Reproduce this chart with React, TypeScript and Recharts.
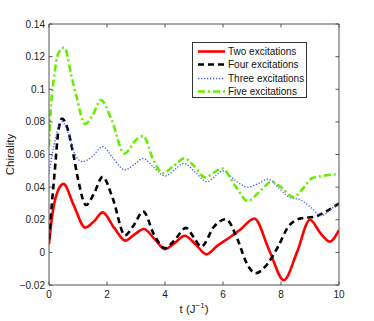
import React from 'react';
import { LineChart, Line, XAxis, YAxis } from 'recharts';

document.body.style.margin = '0';

const FONT = '"Liberation Sans", Arial, Helvetica, sans-serif';
const AXIS = '#555';

// time axis ticks (J^-1) and chirality ticks
const tTicks = [0, 2, 4, 6, 8, 10];
const yTicks = [-0.02, 0, 0.02, 0.04, 0.06, 0.08, 0.1, 0.12, 0.14];
const yTickLabels = ['\u22120.02', '0', '0.02', '0.04', '0.06', '0.08', '0.1', '0.12', '0.14'];

// Two excitations (red, solid)
const twoT = [0, 0.1, 0.25, 0.5, 0.85, 1.25, 1.55, 1.85, 2.25, 2.63, 2.95, 3.27, 3.65, 4.0, 4.35, 4.68, 5.05, 5.43, 5.8, 6.2, 6.6, 7.08, 7.6, 8.1, 8.55, 9.0, 9.35, 9.68, 10];
const twoY = [0.005, 0.021, 0.035, 0.042, 0.029, 0.0152, 0.019, 0.0245, 0.015, 0.0072, 0.011, 0.0143, 0.008, 0.002, 0.006, 0.0102, 0.005, -0.0012, 0.004, 0.0088, 0.014, 0.0208, 0.001, -0.017, 0.0, 0.02, 0.012, 0.0066, 0.0137];

// Four excitations (black, dashed)
const fourT = [0, 0.1, 0.2, 0.32, 0.45, 0.6, 0.84, 1.0, 1.28, 1.55, 1.85, 2.2, 2.62, 2.9, 3.25, 3.62, 4.0, 4.35, 4.72, 5.0, 5.25, 5.7, 6.1, 6.5, 6.8, 7.12, 7.55, 7.9, 8.25, 8.7, 9.15, 9.55, 10];
const fourY = [0.008, 0.03, 0.05, 0.074, 0.082, 0.078, 0.06, 0.045, 0.029, 0.036, 0.0463, 0.033, 0.0105, 0.016, 0.025, 0.011, 0.0025, 0.008, 0.015, 0.009, 0.0035, 0.016, 0.0203, 0.008, -0.006, -0.0128, -0.0067, 0.0035, 0.0157, 0.0209, 0.0218, 0.025, 0.03];

// Three excitations (blue, dotted)
const threeT = [0, 0.1, 0.25, 0.45, 0.7, 0.9, 1.15, 1.5, 1.85, 2.2, 2.62, 2.95, 3.25, 3.62, 4.0, 4.35, 4.65, 5.05, 5.45, 5.75, 6.0, 6.4, 6.85, 7.2, 7.55, 7.9, 8.25, 8.7, 9.0, 9.4, 9.7, 10];
const threeY = [0.048, 0.059, 0.072, 0.08, 0.071, 0.06, 0.0556, 0.059, 0.0648, 0.058, 0.0505, 0.054, 0.0576, 0.052, 0.0468, 0.051, 0.0546, 0.049, 0.0433, 0.047, 0.05, 0.0444, 0.04, 0.042, 0.0448, 0.04, 0.0341, 0.032, 0.028, 0.0225, 0.026, 0.031];

// Five excitations (green, dash-dot)
const fiveT = [0, 0.06, 0.18, 0.32, 0.53, 0.78, 0.95, 1.24, 1.5, 1.79, 2.16, 2.6, 3.0, 3.25, 3.6, 3.92, 4.3, 4.68, 5.0, 5.38, 5.7, 5.95, 6.45, 6.85, 7.25, 7.68, 8.0, 8.43, 8.75, 9.06, 9.4, 10];
const fiveY = [0.065, 0.087, 0.108, 0.122, 0.1255, 0.1077, 0.0954, 0.0787, 0.084, 0.0934, 0.0812, 0.0605, 0.0689, 0.0713, 0.0566, 0.0485, 0.053, 0.0577, 0.053, 0.046, 0.049, 0.0515, 0.04, 0.0315, 0.037, 0.0433, 0.04, 0.0338, 0.039, 0.0454, 0.0468, 0.048];

const zip = (ts: number[], ys: number[]) => ts.map((t, i) => ({ t, v: ys[i] }));

const series = [
  { name: 'Two excitations', data: zip(twoT, twoY), color: '#ff0000', width: 2.6, dash: undefined },
  { name: 'Four excitations', data: zip(fourT, fourY), color: '#000000', width: 2.6, dash: '6 4' },
  { name: 'Three excitations', data: zip(threeT, threeY), color: '#3f5cff', width: 1.3, dash: '1.3 1.7' },
  { name: 'Five excitations', data: zip(fiveT, fiveY), color: '#66ee00', width: 2.6, dash: '7 3 2 3' },
];

const TICK_LEN = 3.5;

const BottomTick = (p: any) => (
  <g>
    <line x1={p.x} y1={p.y} x2={p.x} y2={p.y - TICK_LEN} stroke={AXIS} />
    <text x={p.x} y={p.y + 13} textAnchor="middle" fontSize={10} fontFamily={FONT} fill="#222">
      {p.payload.value}
    </text>
  </g>
);

const TopTick = (p: any) => <line x1={p.x} y1={p.y} x2={p.x} y2={p.y + TICK_LEN} stroke={AXIS} />;

const LeftTick = (p: any) => {
  const idx = yTicks.findIndex((v) => Math.abs(v - p.payload.value) < 1e-9);
  return (
    <g>
      <line x1={p.x} y1={p.y} x2={p.x + TICK_LEN} y2={p.y} stroke={AXIS} />
      <text x={p.x - 4} y={p.y + 3.5} textAnchor="end" fontSize={10} fontFamily={FONT} fill="#222">
        {yTickLabels[idx]}
      </text>
    </g>
  );
};

const RightTick = (p: any) => <line x1={p.x} y1={p.y} x2={p.x - TICK_LEN} y2={p.y} stroke={AXIS} />;

function LegendBox() {
  return (
    <div
      style={{
        position: 'absolute',
        left: 192,
        top: 42,
        width: 113,
        height: 54,
        border: '1px solid #333',
        background: '#fff',
        fontFamily: FONT,
        fontSize: 10,
        color: '#111',
      }}
    >
      {series.map((s, i) => (
        <div key={s.name} style={{ position: 'absolute', left: 0, top: 2 + i * 13.3, height: 13, display: 'flex', alignItems: 'center' }}>
          <svg width={34} height={13} style={{ display: 'block' }}>
            <line x1={5} y1={6.5} x2={32} y2={6.5} stroke={s.color} strokeWidth={s.width} strokeDasharray={s.dash} />
          </svg>
          <span style={{ whiteSpace: 'nowrap', marginLeft: 1 }}>{s.name}</span>
        </div>
      ))}
    </div>
  );
}

export default function App() {
  return (
    <div style={{ position: 'relative', width: 374, height: 321, background: '#fff' }}>
      <LineChart width={374} height={321} margin={{ top: 14, right: 25, bottom: 6, left: 9 }}>
        <XAxis
          xAxisId="b"
          type="number"
          dataKey="t"
          domain={[0, 10]}
          ticks={tTicks}
          interval={0}
          height={30}
          tickSize={0}
          tickMargin={0}
          tickLine={false}
          axisLine={{ stroke: AXIS }}
          tick={BottomTick}
          allowDataOverflow
          label={{
            content: () => (
              <text x={194} y={313} textAnchor="middle" fontSize={11.5} fontFamily={FONT} fill="#222">
                t (J<tspan dy={-5} fontSize={8}>{'\u22121'}</tspan>
                <tspan dy={5}>)</tspan>
              </text>
            ),
          }}
        />
        <XAxis
          xAxisId="t"
          orientation="top"
          type="number"
          dataKey="t"
          domain={[0, 10]}
          ticks={tTicks}
          interval={0}
          height={10}
          tickSize={0}
          tickMargin={0}
          tickLine={false}
          axisLine={{ stroke: AXIS }}
          tick={TopTick}
          allowDataOverflow
        />
        <YAxis
          yAxisId="l"
          type="number"
          domain={[-0.02, 0.14]}
          ticks={yTicks}
          interval={0}
          width={40}
          tickSize={0}
          tickMargin={0}
          tickLine={false}
          axisLine={{ stroke: AXIS }}
          tick={LeftTick}
          allowDataOverflow
          label={{
            content: () => (
              <text
                x={14}
                y={154.5}
                transform="rotate(-90 14 154.5)"
                textAnchor="middle"
                fontSize={11.5}
                fontFamily={FONT}
                fill="#222"
              >
                Chirality
              </text>
            ),
          }}
        />
        <YAxis
          yAxisId="r"
          orientation="right"
          type="number"
          domain={[-0.02, 0.14]}
          ticks={yTicks}
          interval={0}
          width={10}
          tickSize={0}
          tickMargin={0}
          tickLine={false}
          axisLine={{ stroke: AXIS }}
          tick={RightTick}
          allowDataOverflow
        />
        {series.map((s) => (
          <Line
            key={s.name}
            xAxisId="b"
            yAxisId="l"
            data={s.data}
            dataKey="v"
            name={s.name}
            type="monotone"
            stroke={s.color}
            strokeWidth={s.width}
            strokeDasharray={s.dash}
            dot={false}
            activeDot={false}
            isAnimationActive={false}
          />
        ))}
      </LineChart>
      <LegendBox />
    </div>
  );
}
